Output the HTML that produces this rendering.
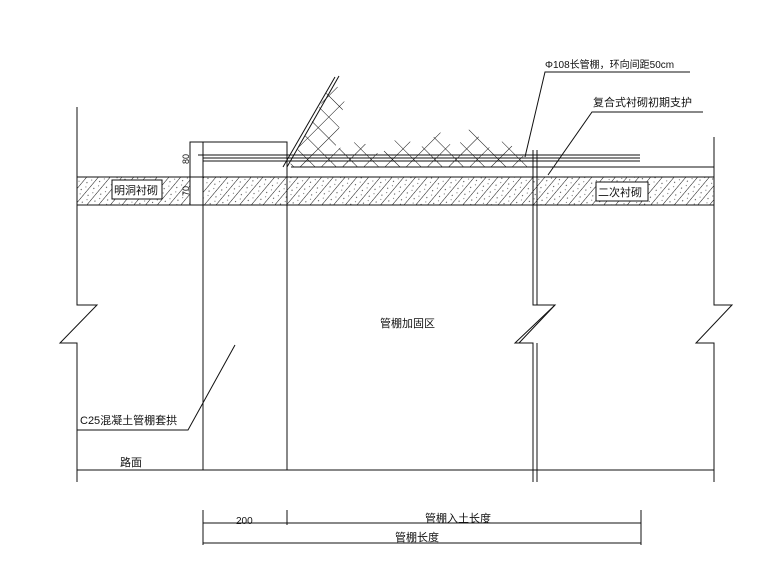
<!DOCTYPE html>
<html><head><meta charset="utf-8"><style>
html,body{margin:0;padding:0;background:#fff;}
svg{display:block;}
text{font-family:"Liberation Sans","Noto Sans CJK SC",sans-serif;fill:#111;}
</style></head><body>
<svg width="780" height="585" viewBox="0 0 780 585" xmlns="http://www.w3.org/2000/svg">
<defs>
<pattern id="diag" width="9" height="9" patternUnits="userSpaceOnUse" patternTransform="rotate(40)">
<line x1="0" y1="0" x2="0" y2="9" stroke="#111" stroke-width="1"/>
<circle cx="4" cy="3" r="0.6" fill="#444"/><circle cx="6" cy="7" r="0.5" fill="#444"/>
</pattern>
<pattern id="cross" width="15" height="15" patternUnits="userSpaceOnUse" patternTransform="rotate(45)">
<line x1="0" y1="0" x2="0" y2="15" stroke="#111" stroke-width="1"/>
<line x1="0" y1="0" x2="15" y2="0" stroke="#111" stroke-width="1"/>
</pattern>
</defs>
<g stroke="#111" stroke-width="1" fill="none">
<rect x="77" y="177" width="637" height="28" fill="url(#diag)" stroke="none"/>
<rect x="190" y="177" width="13" height="28" fill="#fff" stroke="none"/>
<line x1="77" y1="177" x2="714" y2="177"/>
<line x1="77" y1="205" x2="714" y2="205"/>
<polygon points="290,165 333,80 345,98 335,150 360,140 380,155 400,135 420,148 440,132 455,150 470,128 490,148 505,140 528,160 530,167 291,167" fill="url(#cross)" stroke="none"/>
<polyline points="77,107 77,305 97,305 60,343 77,343 77,482"/>
<polyline points="714,137 714,305 732,305 696,343 714,343 714,482"/>
<polyline points="533,150 533,305 555,305 515,343 533,343 533,482"/>
<polyline points="537,150 537,305"/>
<line x1="555" y1="305" x2="519" y2="343"/>
<line x1="537" y1="343" x2="537" y2="482"/>
<polyline points="190,205 190,142 287,142 287,470"/>
<line x1="203" y1="142" x2="203" y2="470"/>
<line x1="198" y1="155" x2="640" y2="155"/>
<line x1="203" y1="158" x2="640" y2="158"/>
<line x1="203" y1="161" x2="640" y2="161"/>
<line x1="291" y1="167" x2="714" y2="167"/>
<line x1="283" y1="167" x2="335" y2="77"/>
<line x1="287" y1="167" x2="339" y2="76"/>
<line x1="77" y1="470" x2="714" y2="470"/>
<polyline points="525,157 545,72 690,72"/>
<polyline points="548,175 592,112 703,112"/>
<polyline points="77,430 188,430 235,345"/>
<line x1="203" y1="510" x2="203" y2="545"/>
<line x1="287" y1="510" x2="287" y2="525"/>
<line x1="641" y1="510" x2="641" y2="545"/>
<line x1="203" y1="523" x2="641" y2="523"/>
<line x1="203" y1="543" x2="641" y2="543"/>
<rect x="112" y="180" width="50" height="19" fill="#fff"/>
<rect x="596" y="182" width="52" height="19" fill="#fff"/>
</g>
<g font-size="11">
<text x="114" y="194">明洞衬砌</text>
<text x="598" y="196">二次衬砌</text>
<text x="545" y="68" font-size="10">Φ108长管棚，环向间距50cm</text>
<text x="593" y="106">复合式衬砌初期支护</text>
<text x="380" y="327">管棚加固区</text>
<text x="80" y="424">C25混凝土管棚套拱</text>
<text x="120" y="466">路面</text>
<text x="236" y="524" font-size="10">200</text>
<text x="425" y="522">管棚入土长度</text>
<text x="395" y="541">管棚长度</text>
<text transform="translate(189,164) rotate(-90)" font-size="9">80</text>
<text transform="translate(189,196) rotate(-90)" font-size="9">70</text>
</g>
</svg>
</body></html>
